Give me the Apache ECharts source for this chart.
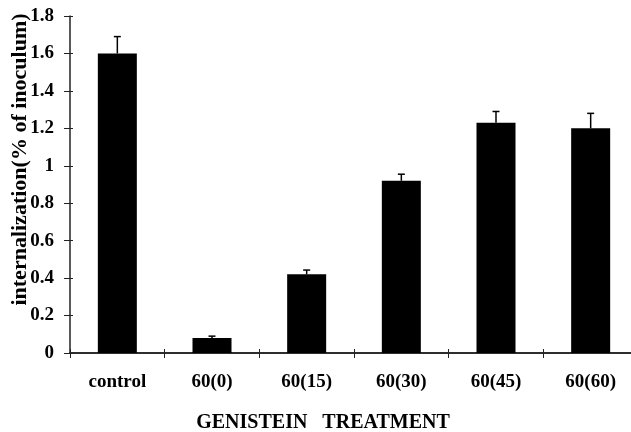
<!DOCTYPE html>
<html><head><meta charset="utf-8">
<script src="https://cdn.jsdelivr.net/npm/echarts@6/dist/echarts.min.js"></script>
<style>html,body{margin:0;padding:0;background:#fff}#c{width:631px;height:432px}</style>
</head><body><div id="c"></div>
<script>
const categories = ['control', '60(0)', '60(15)', '60(30)', '60(45)', '60(60)'];
const values = [1.60, 0.08, 0.42, 0.92, 1.23, 1.20];
const errorTops = [1.69, 0.09, 0.443, 0.955, 1.29, 1.28];
const yTicks = [0, 0.2, 0.4, 0.6, 0.8, 1, 1.2, 1.4, 1.6, 1.8];

const chart = echarts.init(document.getElementById('c'));
const font = '"Liberation Serif", "Times New Roman", serif';
const axisColor = '#222';
chart.setOption({
  animation: false,
  grid: { left: 70, right: -7, top: 16, bottom: 79, outerBoundsMode: 'none', containLabel: false },
  xAxis: [{
    type: 'category', data: categories, position: 'bottom',
    axisLine: { lineStyle: { color: axisColor, width: 1.5 } },
    axisTick: { show: true, length: 5, inside: false, lineStyle: { color: axisColor, width: 1 } },
    axisLabel: { margin: 20, color: '#000', fontFamily: font, fontWeight: 'bold', fontSize: 19 },
    name: 'GENISTEIN   TREATMENT', nameLocation: 'middle', nameGap: 60,
    nameTextStyle: { color: '#000', fontFamily: font, fontWeight: 'bold', fontSize: 20, padding: [0, 62, 0, 0] }
  }, {
    type: 'category', data: categories, position: 'top',
    axisLine: { show: true, lineStyle: { color: axisColor, width: 1.5 } },
    axisTick: { show: false }, axisLabel: { show: false }
  }, {
    type: 'category', data: categories, position: 'bottom',
    axisLine: { show: false },
    axisTick: { show: true, inside: true, length: 4, lineStyle: { color: axisColor, width: 1 } },
    axisLabel: { show: false }
  }],
  yAxis: [{
    type: 'value', min: 0, max: 1.8, interval: 0.2, position: 'left',
    splitLine: { show: false },
    axisLine: { show: true, lineStyle: { color: axisColor, width: 1.5 } },
    axisTick: { show: true, length: 6, lineStyle: { color: axisColor, width: 1 } },
    axisLabel: { margin: 16, color: '#000', fontFamily: font, fontWeight: 'bold', fontSize: 19,
      formatter: v => String(Math.round(v * 10) / 10) },
    name: 'internalization(% of inoculum)', nameLocation: 'middle', nameGap: 39, nameRotate: 90,
    nameMoveOverlap: false,
    nameTextStyle: { color: '#000', fontFamily: font, fontWeight: 'bold', fontSize: 22, padding: [0, 0, 0, 50] }
  }, {
    type: 'value', min: 0, max: 1.8, interval: 0.2, position: 'left',
    splitLine: { show: false }, axisLine: { show: false },
    axisTick: { show: true, inside: true, length: 3, lineStyle: { color: axisColor, width: 1 } },
    axisLabel: { show: false }
  }],
  series: [{
    type: 'bar', data: values, barWidth: 39, xAxisIndex: 0, yAxisIndex: 0,
    itemStyle: { color: '#000' }
  }, {
    type: 'custom', xAxisIndex: 0, yAxisIndex: 0,
    data: values.map((v, i) => [i, v, errorTops[i]]),
    renderItem: (params, api) => {
      const base = api.coord([api.value(0), api.value(1)]);
      const top = api.coord([api.value(0), api.value(2)]);
      const x = base[0];
      return { type: 'group', children: [
        { type: 'line', shape: { x1: x, y1: base[1], x2: x, y2: top[1] }, style: { stroke: '#000', lineWidth: 1.5 } },
        { type: 'line', shape: { x1: x - 3.5, y1: top[1], x2: x + 3.5, y2: top[1] }, style: { stroke: '#000', lineWidth: 1.5 } }
      ]};
    },
    z: 3
  }]
});
</script></body></html>
